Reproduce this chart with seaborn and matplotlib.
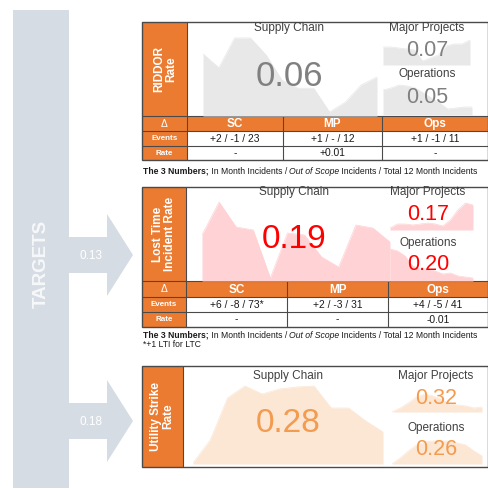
import matplotlib
matplotlib.use("Agg")
import matplotlib.pyplot as plt
import seaborn as sns
import pandas as pd
from matplotlib.patches import Rectangle, Polygon

sns.set_theme(style="white")
plt.rcParams['font.family'] = ['Liberation Sans', 'DejaVu Sans']

W, H = 489, 490

# ---------------- data ----------------
months = list(range(1, 13))
divisions = ["Supply Chain", "Major Projects", "Operations"]
table_cols = ["SC", "MP", "Ops"]
row_labels = ["Events", "Rate"]
targets = ["0.13", "0.18"]

# RIDDOR rate (12 month trend)
riddor_sc = [0.094, 0.073, 0.118, 0.118, 0.092, 0.054, 0.042, 0.042, 0.006, 0.021, 0.047, 0.059]
riddor_mp = [0.054, 0.054, 0.051, 0.048, 0.045, 0.012, 0.021, 0.030, 0.057, 0.063, 0.063, 0.075]
riddor_ops = [0.050, 0.054, 0.060, 0.058, 0.054, 0.044, 0.034, 0.024, 0.012, 0.014, 0.016, 0.016]
riddor_headline = ["0.06", "0.07", "0.05"]
riddor_events = ["+2 / -1 / 23", "+1 / - / 12", "+1 / -1 / 11"]
riddor_rate = ["-", "+0.01", "-"]

# Lost time incident rate
lti_sc = [0.184, 0.316, 0.216, 0.204, 0.012, 0.192, 0.184, 0.096, 0.056, 0.224, 0.212, 0.156]
lti_mp = [0.012, 0.036, 0.036, 0.030, 0.036, 0.042, 0.036, 0.024, 0.060, 0.120, 0.162, 0.150]
lti_ops = [0.192, 0.180, 0.150, 0.090, 0.072, 0.072, 0.060, 0.042, 0.048, 0.030, 0.024, 0.018]
lti_headline = ["0.19", "0.17", "0.20"]
lti_events = ["+6 / -8 / 73*", "+2 / -3 / 31", "+4 / -5 / 41"]
lti_rate = ["-", "-", "-0.01"]

# Utility strike rate
usr_sc = [0.005, 0.120, 0.330, 0.390, 0.350, 0.375, 0.385, 0.390, 0.280, 0.280, 0.215, 0.160]
usr_mp = [0.000, 0.080, 0.180, 0.300, 0.360, 0.320, 0.260, 0.160, 0.140, 0.120, 0.080, 0.100]
usr_ops = [0.000, 0.090, 0.195, 0.285, 0.330, 0.345, 0.345, 0.345, 0.315, 0.285, 0.195, 0.120]
usr_headline = ["0.28", "0.32", "0.26"]

# ---------------- style ----------------
ORANGE = "#EB7B30"
TARGET_GREY = "#D6DCE4"
DARK = "#4A4A4A"
TITLE_C = "#404040"
GREY_AREA, GREY_TXT = "#E8E8E8", "#808080"
RED_AREA, RED_TXT = "#FFD2D5", "#FF0000"
ORG_AREA, ORG_TXT = "#FCE6D4", "#F39B4E"

fig = plt.figure(figsize=(W / 100, H / 100), dpi=100)
fig.patch.set_facecolor("white")

bg = fig.add_axes([0, 0, 1, 1], zorder=0)
bg.set_xlim(0, W); bg.set_ylim(H, 0); bg.axis("off")


def px2fig(x0, y0, x1, y1):
    return [x0 / W, 1 - y1 / H, (x1 - x0) / W, (y1 - y0) / H]


def area(x0, x1, base, top, vals, ymax, color):
    ax = fig.add_axes(px2fig(x0, top, x1, base), zorder=1)
    ax.patch.set_alpha(0)
    df = pd.DataFrame({"month": months, "rate": vals})
    sns.lineplot(data=df, x="month", y="rate", ax=ax, color=color, lw=0.5)
    ax.fill_between(df["month"], df["rate"], color=color, lw=0)
    ax.set_xlim(1, 12); ax.set_ylim(0, ymax)
    ax.axis("off")


# ---------------- targets bar ----------------
bg.add_patch(Rectangle((13, 10), 56, 478, color=TARGET_GREY, lw=0))
for cy in (255, 421):
    bg.add_patch(Polygon([(69, cy - 18), (107, cy - 18), (107, cy - 41), (133, cy),
                          (107, cy + 41), (107, cy + 18), (69, cy + 18)],
                         closed=True, color=TARGET_GREY, lw=0))

# ---------------- panel frames ----------------
def frame(top, chart_bot, lab_x1, cols, rows):
    x0, x1 = 142, 488
    bot = rows[-1] if rows else chart_bot
    bg.add_patch(Rectangle((x0, top), x1 - x0, bot - top, facecolor="white", lw=0))
    bg.add_patch(Rectangle((x0, top), lab_x1 - x0, chart_bot - top, facecolor=ORANGE, lw=0))
    if rows:
        bg.add_patch(Rectangle((x0, chart_bot), x1 - x0, rows[0] - chart_bot, facecolor=ORANGE, lw=0))
        bg.add_patch(Rectangle((x0, rows[0]), lab_x1 - x0, rows[-1] - rows[0], facecolor=ORANGE, lw=0))
        for y in [chart_bot] + rows[:-1]:
            bg.plot([x0, x1], [y, y], color=DARK, lw=0.8)
        for x in cols:
            bg.plot([x, x], [chart_bot, bot], color=DARK, lw=0.8)
    bg.plot([lab_x1, lab_x1], [top, chart_bot], color=DARK, lw=0.8)
    bg.add_patch(Rectangle((x0, top), x1 - x0, bot - top, fill=False, edgecolor=DARK, lw=1.0))


frame(22, 116, 187, [187, 283, 382], [131, 146, 160])
frame(187, 281, 186, [186, 287, 388], [297, 312, 327])
frame(366, 467, 183, [], [])

# ---------------- area charts ----------------
area(203, 377, 116, 30, riddor_sc, 0.13, GREY_AREA)
area(383, 470, 65, 35, riddor_mp, 0.09, GREY_AREA)
area(383, 472, 115, 80, riddor_ops, 0.07, GREY_AREA)

area(202, 390, 281, 195, lti_sc, 0.344, RED_AREA)
area(390, 473, 230, 200, lti_mp, 0.18, RED_AREA)
area(390, 473, 281, 241, lti_ops, 0.24, RED_AREA)

area(193, 383, 464, 380, usr_sc, 0.42, ORG_AREA)
area(392, 482, 412, 390, usr_mp, 0.44, ORG_AREA)
area(392, 482, 464, 436, usr_ops, 0.42, ORG_AREA)

# ---------------- text overlay ----------------
fg = fig.add_axes([0, 0, 1, 1], zorder=2)
fg.patch.set_alpha(0)
fg.set_xlim(0, W); fg.set_ylim(H, 0); fg.axis("off")

fg.text(41, 264, "TARGETS", rotation=90, color="#F7F8FA", fontsize=13.5, weight="bold",
        ha="center", va="center")
for cy, t in zip((255, 421), targets):
    fg.text(91, cy + 1, t, color="white", fontsize=8.5, ha="center", va="center")

# vertical labels
fg.text(165, 69, "RIDDOR\nRate", rotation=90, color="white", fontsize=8.5, weight="bold",
        ha="center", va="center", linespacing=1.05)
fg.text(164, 234, "Lost Time\nIncident Rate", rotation=90, color="white", fontsize=8.5,
        weight="bold", ha="center", va="center", linespacing=1.05)
fg.text(162, 416, "Utility Strike\nRate", rotation=90, color="white", fontsize=8.5,
        weight="bold", ha="center", va="center", linespacing=1.05)


def headlines(sc_xy, mp_x, ys, vals, color, big_fs, small_fs):
    fg.text(sc_xy[0], ys[0], divisions[0], fontsize=8.5, color=TITLE_C, ha="center", va="center")
    fg.text(sc_xy[0], sc_xy[1], vals[0], fontsize=big_fs, color=color, ha="center", va="center")
    fg.text(mp_x, ys[0], divisions[1], fontsize=8.5, color=TITLE_C, ha="center", va="center")
    fg.text(mp_x, ys[1], vals[1], fontsize=small_fs, color=color, ha="center", va="center")
    fg.text(mp_x, ys[2], divisions[2], fontsize=8.5, color=TITLE_C, ha="center", va="center")
    fg.text(mp_x, ys[3], vals[2], fontsize=small_fs, color=color, ha="center", va="center")


headlines((289, 76), 427, (28, 50, 74, 97), riddor_headline, GREY_TXT, 25, 15.5)
headlines((294, 239), 428, (192, 214, 243, 264), lti_headline, RED_TXT, 24, 15.5)
headlines((288, 423), 436, (376, 398, 428, 449), usr_headline, ORG_TXT, 24, 15.5)


def table_text(cols, rows, chart_bot, lab_x, events, rates):
    centers = [(cols[i] + (cols[i + 1] if i + 1 < len(cols) else 488)) / 2 for i in range(len(cols))]
    fg.text(lab_x, (chart_bot + rows[0]) / 2, "\u0394", color="white", fontsize=7.5,
            ha="center", va="center")
    fg.text(lab_x, (rows[0] + rows[1]) / 2, row_labels[0], color="white", fontsize=5.8,
            weight="bold", ha="center", va="center")
    fg.text(lab_x, (rows[1] + rows[2]) / 2, row_labels[1], color="white", fontsize=5.8,
            weight="bold", ha="center", va="center")
    for c, name, ev, rt in zip(centers, table_cols, events, rates):
        fg.text(c, (chart_bot + rows[0]) / 2 + 0.5, name, color="white", fontsize=8.5,
                weight="bold", ha="center", va="center")
        fg.text(c, (rows[0] + rows[1]) / 2, ev, color="#1A1A1A", fontsize=7.4,
                ha="center", va="center")
        fg.text(c, (rows[1] + rows[2]) / 2, rt, color="#1A1A1A", fontsize=7.4,
                ha="center", va="center")


table_text([187, 283, 382], [131, 146, 160], 116, 164.5, riddor_events, riddor_rate)
table_text([186, 287, 388], [297, 312, 327], 281, 164, lti_events, lti_rate)


def footnote(x, y, fs=6.2):
    parts = [("The 3 Numbers;", "bold", "normal"),
             (" In Month Incidents / ", "normal", "normal"),
             ("Out of Scope", "normal", "italic"),
             (" Incidents / Total 12 Month Incidents", "normal", "normal")]
    t = fg.text(x, y, parts[0][0], fontsize=fs, weight=parts[0][1], style=parts[0][2],
                color="#1A1A1A", va="center", ha="left")
    for s, w, st in parts[1:]:
        t = fg.annotate(s, xy=(1, 0), xycoords=t, fontsize=fs, weight=w, style=st,
                        color="#1A1A1A", va="bottom", ha="left")


footnote(143, 171)
footnote(143, 335)
fg.text(143, 344, "*+1 LTI for LTC", fontsize=6.2, color="#1A1A1A", va="center", ha="left")

fig.savefig("out.png", dpi=100, facecolor="white")
